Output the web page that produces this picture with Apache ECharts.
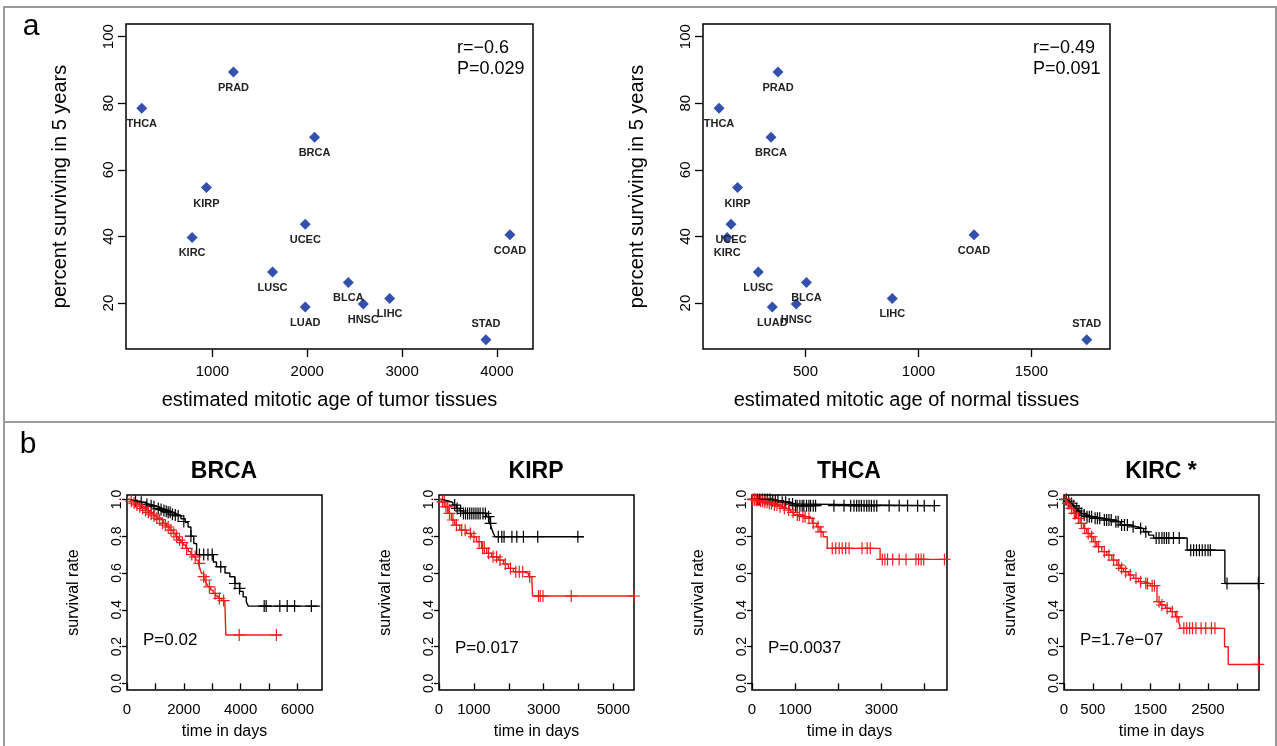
<!DOCTYPE html>
<html>
<head>
<meta charset="utf-8">
<title>Mitotic age and cancer survival</title>
<script src="https://cdn.jsdelivr.net/npm/echarts@6/dist/echarts.min.js"></script>
<style>
  html, body { margin: 0; padding: 0; background: #fff; }
  #chart { width: 1277px; height: 746px; }
</style>
</head>
<body>
<div id="chart"></div>
<script>
// ---- panel a: 5-year survival vs estimated mitotic age ----
const cancerTypes = ['THCA', 'PRAD', 'BRCA', 'KIRP', 'UCEC', 'KIRC', 'COAD', 'LUSC', 'BLCA', 'LIHC', 'HNSC', 'LUAD', 'STAD']
const survival5yr = [78.5, 89.4, 69.8, 54.7, 43.7, 39.7, 40.5, 29.3, 26.2, 21.4, 19.7, 18.8, 9.0]
const tumorMitoticAge = [255, 1222, 2077, 937, 1979, 786, 4137, 1634, 2433, 2869, 2591, 1979, 3884]
const normalMitoticAge = [117, 378, 347, 199, 170, 153, 1246, 291, 504, 884, 459, 353, 1745]
// labels go under the point except these, which sit above
const labelsAbove = ['STAD']

const survivalTicks = [20, 40, 60, 80, 100]
const tumorAgeTicks = [1000, 2000, 3000, 4000]
const normalAgeTicks = [500, 1000, 1500]

// ---- panel b: Kaplan-Meier curves, [day, survival] ----
const rateTicks = [0, 0.2, 0.4, 0.6, 0.8, 1.0]

const brcaDayTicks = [0, 1000, 2000, 3000, 4000, 5000, 6000]
const brcaDayLabels = [0, 2000, 4000, 6000]
const brcaBlackSteps = [[0, 1], [120, 0.995], [250, 0.99], [400, 0.985], [550, 0.978], [700, 0.972], [850, 0.965], [1000, 0.957], [1150, 0.948], [1300, 0.94], [1450, 0.93], [1600, 0.92], [1750, 0.91], [1900, 0.895], [2050, 0.875], [2150, 0.85], [2250, 0.8], [2350, 0.76], [2450, 0.7], [3040, 0.66], [3150, 0.634], [3450, 0.6], [3620, 0.58], [3800, 0.543], [3970, 0.5], [4090, 0.47], [4200, 0.444], [4270, 0.42], [6800, 0.42]]
const brcaBlackCensor = [[300, 0.99], [500, 0.985], [700, 0.972], [850, 0.965], [950, 0.96], [1100, 0.95], [1200, 0.945], [1300, 0.94], [1380, 0.935], [1450, 0.93], [1520, 0.93], [1600, 0.92], [1700, 0.915], [1800, 0.91], [2000, 0.88], [2250, 0.8], [2550, 0.7], [2700, 0.7], [2850, 0.7], [3000, 0.7], [3300, 0.634], [3800, 0.543], [3960, 0.516], [4830, 0.42], [4900, 0.42], [5380, 0.42], [5640, 0.42], [5900, 0.42], [6490, 0.42]]
const brcaRedSteps = [[0, 1], [100, 0.99], [200, 0.98], [330, 0.97], [460, 0.96], [580, 0.95], [700, 0.937], [810, 0.924], [940, 0.91], [1060, 0.898], [1160, 0.888], [1280, 0.87], [1390, 0.851], [1510, 0.833], [1630, 0.815], [1720, 0.797], [1800, 0.779], [1900, 0.765], [1980, 0.752], [2070, 0.734], [2160, 0.716], [2250, 0.7], [2330, 0.688], [2420, 0.67], [2510, 0.652], [2570, 0.625], [2620, 0.598], [2700, 0.58], [2740, 0.562], [2800, 0.544], [2860, 0.525], [2950, 0.507], [3035, 0.489], [3120, 0.475], [3210, 0.462], [3330, 0.45], [3445, 0.438], [3480, 0.263], [5450, 0.263]]
const brcaRedCensor = [[150, 0.99], [250, 0.98], [350, 0.97], [450, 0.96], [550, 0.95], [650, 0.94], [750, 0.93], [850, 0.92], [950, 0.91], [1050, 0.898], [1150, 0.89], [1250, 0.87], [1350, 0.86], [1450, 0.85], [1550, 0.833], [1650, 0.815], [1750, 0.797], [1850, 0.779], [1950, 0.765], [2100, 0.734], [2280, 0.7], [2400, 0.688], [2550, 0.652], [2700, 0.58], [2780, 0.562], [2900, 0.525], [3100, 0.489], [3250, 0.462], [3400, 0.45], [3950, 0.263], [5260, 0.263]]

const kirpDayTicks = [0, 1000, 2000, 3000, 4000, 5000]
const kirpDayLabels = [0, 1000, 3000, 5000]
const kirpBlackSteps = [[0, 1], [100, 0.995], [200, 0.99], [300, 0.982], [400, 0.969], [500, 0.951], [600, 0.938], [700, 0.924], [1365, 0.906], [1460, 0.87], [1510, 0.842], [1560, 0.815], [1606, 0.797], [4150, 0.797]]
const kirpBlackCensor = [[450, 0.969], [520, 0.951], [620, 0.938], [700, 0.924], [760, 0.924], [820, 0.924], [880, 0.924], [940, 0.924], [1000, 0.924], [1060, 0.924], [1120, 0.924], [1180, 0.924], [1260, 0.924], [1330, 0.924], [1420, 0.906], [1480, 0.87], [1700, 0.797], [1800, 0.797], [1865, 0.797], [2090, 0.797], [2230, 0.797], [2420, 0.797], [2830, 0.797], [3980, 0.797]]
const kirpRedSteps = [[0, 1], [67, 0.987], [163, 0.96], [260, 0.924], [356, 0.888], [452, 0.86], [596, 0.833], [788, 0.815], [933, 0.797], [1077, 0.77], [1221, 0.734], [1365, 0.707], [1510, 0.688], [1702, 0.67], [1846, 0.649], [1990, 0.625], [2135, 0.607], [2423, 0.598], [2567, 0.58], [2663, 0.553], [2683, 0.475], [5600, 0.475]]
const kirpRedCensor = [[100, 0.987], [150, 0.987], [200, 0.96], [250, 0.96], [300, 0.924], [400, 0.888], [500, 0.86], [650, 0.833], [750, 0.833], [900, 0.815], [1000, 0.797], [1150, 0.77], [1250, 0.734], [1300, 0.734], [1420, 0.707], [1550, 0.688], [1650, 0.688], [1750, 0.67], [1900, 0.649], [2050, 0.625], [2200, 0.607], [2300, 0.607], [2400, 0.607], [2600, 0.58], [2850, 0.475], [2900, 0.475], [2980, 0.475], [3790, 0.475], [5590, 0.475]]

const thcaDayTicks = [0, 1000, 2000, 3000, 4000]
const thcaDayLabels = [0, 1000, 3000]
const thcaBlackSteps = [[0, 1], [450, 0.993], [650, 0.985], [850, 0.975], [1000, 0.966], [4225, 0.966]]
const thcaBlackCensor = [[60, 1], [120, 1], [180, 1], [240, 1], [300, 1], [360, 1], [420, 1], [480, 0.993], [540, 0.993], [600, 0.993], [700, 0.985], [780, 0.985], [860, 0.975], [940, 0.975], [1008, 0.966], [1047, 0.966], [1109, 0.966], [1163, 0.966], [1202, 0.966], [1264, 0.966], [1318, 0.966], [1357, 0.966], [1419, 0.966], [1473, 0.966], [1899, 0.966], [2132, 0.966], [2287, 0.966], [2364, 0.966], [2426, 0.966], [2481, 0.966], [2535, 0.966], [2597, 0.966], [2659, 0.966], [2713, 0.966], [2767, 0.966], [2829, 0.966], [2891, 0.966], [3178, 0.966], [3411, 0.966], [3605, 0.966], [3837, 0.966], [3992, 0.966], [4225, 0.966]]
const thcaRedSteps = [[0, 1], [100, 0.995], [200, 0.99], [280, 0.985], [400, 0.978], [500, 0.97], [600, 0.96], [700, 0.951], [814, 0.942], [900, 0.93], [969, 0.915], [1124, 0.906], [1280, 0.897], [1395, 0.87], [1496, 0.851], [1574, 0.824], [1651, 0.797], [1744, 0.734], [2969, 0.674], [4500, 0.674]]
const thcaRedCensor = [[20, 1], [60, 1], [100, 0.995], [150, 0.995], [200, 0.99], [250, 0.99], [300, 0.985], [350, 0.985], [400, 0.978], [450, 0.978], [520, 0.97], [580, 0.97], [650, 0.96], [750, 0.951], [850, 0.942], [950, 0.93], [1050, 0.915], [1100, 0.915], [1180, 0.906], [1230, 0.906], [1320, 0.897], [1420, 0.87], [1530, 0.851], [1600, 0.824], [1860, 0.734], [1940, 0.734], [2020, 0.734], [2090, 0.734], [2170, 0.734], [2250, 0.734], [2550, 0.734], [2670, 0.734], [2740, 0.734], [3020, 0.674], [3080, 0.674], [3140, 0.674], [3260, 0.674], [3410, 0.674], [3570, 0.674], [3800, 0.674], [3860, 0.674], [3920, 0.674], [3980, 0.674], [4460, 0.674]]

const kircDayTicks = [0, 500, 1000, 1500, 2000, 2500, 3000]
const kircDayLabels = [0, 500, 1500, 2500]
const kircBlackSteps = [[0, 1], [50, 0.99], [105, 0.978], [150, 0.965], [192, 0.951], [240, 0.937], [279, 0.924], [330, 0.915], [366, 0.906], [511, 0.897], [685, 0.888], [859, 0.879], [976, 0.861], [1150, 0.851], [1266, 0.842], [1382, 0.824], [1469, 0.806], [1556, 0.79], [2138, 0.724], [2793, 0.543], [3374, 0.543]]
const kircBlackCensor = [[40, 1], [80, 0.99], [130, 0.978], [170, 0.965], [220, 0.951], [260, 0.937], [300, 0.924], [350, 0.915], [400, 0.906], [440, 0.906], [480, 0.906], [540, 0.897], [580, 0.897], [620, 0.897], [700, 0.888], [740, 0.888], [780, 0.888], [820, 0.888], [900, 0.879], [940, 0.879], [1000, 0.861], [1050, 0.861], [1100, 0.861], [1200, 0.851], [1330, 0.842], [1420, 0.824], [1600, 0.79], [1650, 0.79], [1700, 0.79], [1740, 0.79], [1780, 0.79], [1820, 0.79], [1900, 0.79], [2000, 0.79], [2200, 0.724], [2250, 0.724], [2300, 0.724], [2350, 0.724], [2400, 0.724], [2450, 0.724], [2500, 0.724], [2540, 0.724], [2830, 0.543], [3374, 0.543]]
const kircRedSteps = [[0, 1], [46, 0.978], [105, 0.951], [163, 0.924], [221, 0.897], [279, 0.87], [337, 0.842], [395, 0.815], [453, 0.797], [511, 0.77], [569, 0.743], [656, 0.716], [743, 0.697], [830, 0.67], [918, 0.643], [976, 0.625], [1034, 0.607], [1121, 0.589], [1208, 0.571], [1295, 0.553], [1382, 0.543], [1498, 0.531], [1614, 0.444], [1672, 0.426], [1760, 0.408], [1847, 0.39], [1934, 0.362], [1992, 0.335], [2021, 0.299], [2787, 0.199], [2851, 0.103], [3374, 0.103]]
const kircRedCensor = [[30, 1], [70, 0.978], [90, 0.978], [130, 0.951], [180, 0.924], [200, 0.924], [250, 0.897], [300, 0.87], [360, 0.842], [420, 0.815], [480, 0.797], [540, 0.77], [600, 0.743], [700, 0.716], [780, 0.697], [860, 0.67], [950, 0.643], [1000, 0.625], [1070, 0.607], [1150, 0.589], [1250, 0.571], [1330, 0.553], [1420, 0.543], [1450, 0.543], [1530, 0.531], [1570, 0.531], [1650, 0.444], [1700, 0.426], [1790, 0.408], [1880, 0.39], [1960, 0.362], [2080, 0.299], [2130, 0.299], [2180, 0.299], [2230, 0.299], [2290, 0.299], [2380, 0.299], [2460, 0.299], [2560, 0.299], [2620, 0.299], [3374, 0.103]]

const FONT = '"Liberation Sans", Arial, Helvetica, sans-serif'
const BLUE = '#3350ad'
const RED = '#ee1c1c'
const PLUS = 'path://M9,0h2v9h9v2h-9v9h-2v-9h-9v-2h9z'

const chart = echarts.init(document.getElementById('chart'))

const grids = []
const xAxes = []
const yAxes = []
const series = []
const texts = []

function addText(text, x, y, size, align, weight) {
  texts.push({
    type: 'text', x, y, silent: true,
    style: {
      text, fill: '#000', textAlign: align || 'left', textVerticalAlign: 'middle',
      font: (weight || 'normal') + ' ' + size + 'px ' + FONT
    }
  })
}

function tickAxis(gi, min, max, ticks, labels, opts) {
  return {
    gridIndex: gi, type: 'value', min, max,
    axisLine: { show: false },
    splitLine: { show: false },
    axisTick: { show: true, length: opts.tick, customValues: ticks, lineStyle: { color: '#000', width: 1.3 } },
    axisLabel: {
      customValues: labels, margin: opts.margin, fontSize: opts.font, color: '#000', fontFamily: FONT,
      rotate: opts.rotate || 0, formatter: opts.fmt || (v => String(v))
    },
    name: opts.name, nameLocation: 'middle', nameGap: opts.gap, nameRotate: opts.rotate ? 90 : 0,
    nameTextStyle: { fontSize: opts.nameSize, color: '#000', fontFamily: FONT }
  }
}

// scatter plots (panel a)
const scatterPanels = [
  { left: 126, xMin: 89, xMax: 4380, ages: tumorMitoticAge, ticks: tumorAgeTicks, name: 'estimated mitotic age of tumor tissues', r: 'r=\u22120.6', p: 'P=0.029', textX: 457 },
  { left: 703, xMin: 46, xMax: 1848, ages: normalMitoticAge, ticks: normalAgeTicks, name: 'estimated mitotic age of normal tissues', r: 'r=\u22120.49', p: 'P=0.091', textX: 1033 }
]

scatterPanels.forEach((sp, gi) => {
  grids.push({ left: sp.left, top: 24, width: 407, height: 325, show: true, borderColor: '#000', borderWidth: 1.5, backgroundColor: 'transparent' })
  xAxes.push(tickAxis(gi, sp.xMin, sp.xMax, sp.ticks, sp.ticks, { tick: 8, margin: 15, font: 15, name: sp.name, gap: 41, nameSize: 20 }))
  yAxes.push(tickAxis(gi, 6.2, 103.8, survivalTicks, survivalTicks, { tick: 8, margin: 10, font: 15, rotate: 90, name: 'percent surviving in 5 years', gap: 56, nameSize: 20 }))
  series.push({
    type: 'scatter', xAxisIndex: gi, yAxisIndex: gi,
    data: cancerTypes.map((n, i) => ({
      name: n,
      value: [sp.ages[i], survival5yr[i]],
      label: { position: labelsAbove.includes(n) ? 'top' : 'bottom' }
    })),
    symbol: 'diamond', symbolSize: 11,
    itemStyle: { color: BLUE, opacity: 1 },
    label: { show: true, distance: 5, formatter: '{b}', fontSize: 11, fontWeight: 'bold', color: '#222', fontFamily: FONT }
  })
  addText(sp.r, sp.textX, 48, 18)
  addText(sp.p, sp.textX, 69, 18)
})

// survival curves (panel b)
const kmPanels = [
  { title: 'BRCA', left: 127, xMax: 6865, ticks: brcaDayTicks, labels: brcaDayLabels, black: brcaBlackSteps, blackC: brcaBlackCensor, red: brcaRedSteps, redC: brcaRedCensor, p: 'P=0.02', pY: 640 },
  { title: 'KIRP', left: 439, xMax: 5590, ticks: kirpDayTicks, labels: kirpDayLabels, black: kirpBlackSteps, blackC: kirpBlackCensor, red: kirpRedSteps, redC: kirpRedCensor, p: 'P=0.017', pY: 648 },
  { title: 'THCA', left: 752, xMax: 4519, ticks: thcaDayTicks, labels: thcaDayLabels, black: thcaBlackSteps, blackC: thcaBlackCensor, red: thcaRedSteps, redC: thcaRedCensor, p: 'P=0.0037', pY: 648 },
  { title: 'KIRC *', left: 1064, xMax: 3385, ticks: kircDayTicks, labels: kircDayLabels, black: kircBlackSteps, blackC: kircBlackCensor, red: kircRedSteps, redC: kircRedCensor, p: 'P=1.7e\u221207', pY: 640 }
]

kmPanels.forEach((kp, k) => {
  const gi = k + 2
  grids.push({ left: kp.left, top: 495, width: 195, height: 195, show: true, borderColor: '#000', borderWidth: 1.5, backgroundColor: 'transparent' })
  xAxes.push(tickAxis(gi, 0, kp.xMax, kp.ticks, kp.labels, { tick: 6, margin: 12, font: 15, name: 'time in days', gap: 34, nameSize: 16 }))
  yAxes.push(tickAxis(gi, -0.036, 1.024, rateTicks, rateTicks, { tick: 5, margin: 3, font: 14, rotate: 90, fmt: v => v.toFixed(1), name: 'survival rate', gap: 45, nameSize: 16 }))
  ;[[kp.black, kp.blackC, '#000'], [kp.red, kp.redC, RED]].forEach(([steps, cens, color]) => {
    series.push({
      type: 'line', xAxisIndex: gi, yAxisIndex: gi, data: steps, step: 'end',
      symbol: 'none', lineStyle: { color, width: 1.4 }, silent: true
    })
    series.push({
      type: 'scatter', xAxisIndex: gi, yAxisIndex: gi, data: cens,
      symbol: PLUS, symbolSize: 12, itemStyle: { color, opacity: 1 }, silent: true
    })
  })
  addText(kp.title, kp.left + 97, 472, 23, 'center', 'bold')
  addText(kp.p, kp.left + 16, kp.pY, 17)
})

addText('a', 31, 27, 30, 'center')
addText('b', 28, 445, 30, 'center')

chart.setOption({
  animation: false,
  backgroundColor: '#fff',
  grid: grids,
  xAxis: xAxes,
  yAxis: yAxes,
  series,
  graphic: [
    { type: 'rect', silent: true, shape: { x: 4, y: 7, width: 1272, height: 760 }, style: { fill: 'none', stroke: '#9a9a9a', lineWidth: 2 } },
    { type: 'line', silent: true, shape: { x1: 4, y1: 422, x2: 1276, y2: 422 }, style: { stroke: '#9a9a9a', lineWidth: 2 } },
    ...texts
  ]
})
</script>
</body>
</html>
